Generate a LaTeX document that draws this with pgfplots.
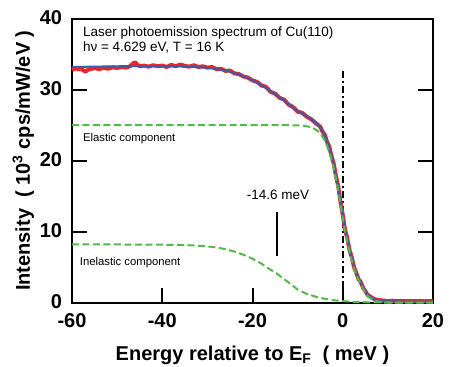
\documentclass[border=0pt]{standalone}
\usepackage{fontspec}
\setmainfont{Liberation Sans}
\usepackage{pgfplots}
\pgfplotsset{compat=1.18}
\definecolor{cred}{HTML}{E8262B}
\definecolor{cblue}{HTML}{3B5BAA}
\definecolor{cgreen}{HTML}{52BA48}
\begin{document}
\begin{tikzpicture}
\path[use as bounding box] (-72pt,-64.3pt) rectangle (381pt,302.7pt);
\begin{axis}[
  at={(0,0)}, anchor=south west,
  scale only axis, width=361pt, height=284pt,
  xmin=-60, xmax=20, ymin=0, ymax=40,
  xtick={-60,-40,-20,0,20}, ytick={0,10,20,30,40},
  xtick pos=bottom, ytick pos=both,
  tick align=inside, major tick length=15pt,
  axis line style={line width=2pt},
  every tick/.style={black, line width=2pt},
  /pgf/number format/assume math mode=true,
  ticklabel style={font=\fontsize{20}{24}\selectfont\bfseries, inner sep=1pt},
  xticklabel style={yshift=-10pt},
  yticklabel style={xshift=-8.7pt, yshift=1pt},
  xlabel={Energy relative to E\textsubscript{F}\ \ ( meV )},
  ylabel={Intensity\ \ ( 10\textsuperscript{3} cps/mW/eV )},
  label style={font=\fontsize{20}{24}\selectfont\bfseries},
  xlabel style={at={(axis description cs:0.5,-0.2018)}, anchor=base, inner sep=0pt},
  ylabel style={at={(axis description cs:-0.135,0.5)}, anchor=center, inner sep=0pt},
  clip=false,
]
% dash-dot Fermi level line
\addplot[black, line width=2pt, dash pattern=on 7pt off 3pt on 2pt off 3pt] coordinates {(0,0) (0,33)};
% -14.6 meV marker
\addplot[black, line width=2pt] coordinates {(-14.6,6.6) (-14.6,12.8)};
% measured data
\addplot[cred, line width=4pt, line join=round] coordinates {
(-60,32.8) (-59.5,32.95) (-59,33.0) (-58.5,32.85) (-58,33.05) (-57.5,32.7) (-57,32.55) (-56.5,32.8) (-56,32.9) (-55,33.05)
(-54,32.9) (-53,33.1) (-52,32.95) (-51,33.15) (-50,33.05) (-49,33.2) (-48,33.1) (-47,33.35) (-46.5,33.7) (-46,33.85)
(-45.5,33.5) (-45,33.3) (-44,33.4) (-43,33.25) (-42,33.45) (-41,33.3) (-40,33.4) (-39,33.2) (-38,33.5) (-37,33.3)
(-36,33.55) (-35,33.35) (-34,33.25) (-33,33.45) (-32,33.2) (-31,33.3) (-30,33.1) (-29,33.2) (-28,32.9) (-27,32.95)
(-26,32.65) (-25,32.7) (-24,32.3) (-23,32.2) (-22,31.85) (-21,31.7) (-20,31.3) (-19,31.1) (-18,30.6) (-17,30.4)
(-16,29.7) (-15,29.45) (-14,28.85) (-13,28.6) (-12,27.9) (-11,27.55) (-10,26.9) (-9,26.75) (-8,26.2) (-7,25.85)
(-6,25.3) (-5,24.8) (-4.5,24.1) (-4,23.7) (-3.5,22.7) (-3,22.0) (-2.5,20.7) (-2,19.6) (-1.5,17.8) (-1,16.4)
(-0.5,14.2) (0,12.4) (0.5,10.3) (1,9.1) (1.5,7.4) (2,6.4) (2.5,5.0) (3,4.2) (3.5,3.3) (4,2.9)
(4.5,2.1) (5,1.65) (5.5,1.1) (6,0.9) (7,0.5) (8,0.38) (9,0.3) (10,0.25) (11,0.28) (12,0.22)
(13,0.25) (14,0.2) (15,0.24) (16,0.22) (17,0.25) (18,0.2) (19,0.23) (20,0.22)
};
% fit
\addplot[cblue, line width=2pt, line join=round] coordinates {
(-60,33.2) (-55,33.25) (-50,33.3) (-45,33.32) (-40,33.3) (-36,33.27) (-33,33.2) (-30,33.08) (-28,32.93) (-26,32.7)
(-24,32.35) (-22,31.9) (-20,31.35) (-18,30.65) (-16,29.8) (-14,28.95) (-12,28.0) (-10,27.0) (-8,26.3) (-7,25.9)
(-6,25.4) (-5,24.75) (-4,23.6) (-3,21.9) (-2,19.5) (-1,16.25) (-0.5,14.3) (0,12.27) (0.5,10.4) (1,9.0)
(1.5,7.5) (2,6.3) (2.5,5.1) (3,4.1) (3.5,3.4) (4,2.8) (4.5,2.15) (5,1.6) (5.5,1.15) (6,0.85)
(7,0.5) (8,0.33) (9,0.25) (10,0.2) (12,0.17) (20,0.15)
};
% elastic component
\addplot[cgreen, line width=2pt, dash pattern=on 7pt off 3.5pt] coordinates {
(-60,25.0) (-50,25.0) (-40,25.0) (-30,25.0) (-20,25.0) (-12,25.0) (-10,24.98) (-9,24.95) (-8,24.85) (-7,24.7)
(-6,24.4) (-5,23.9) (-4,22.9) (-3,21.3) (-2,19.0) (-1,15.8) (-0.5,13.9) (0,11.9) (0.5,10.05) (1,8.7)
(1.5,7.2) (2,6.0) (2.5,4.85) (3,3.85) (3.5,3.2) (4,2.55) (4.5,1.95) (5,1.4) (5.5,0.95) (6,0.65)
(7,0.3) (8,0.15) (9,0.07) (10,0.03) (12,0.0) (20,0.0)
};
% inelastic component
\addplot[cgreen, line width=2pt, dash pattern=on 7pt off 3.5pt] coordinates {
(-60,8.2) (-50,8.2) (-45,8.19) (-40,8.17) (-36,8.13) (-33,8.07) (-30,7.93) (-28,7.78) (-26,7.55) (-24,7.2)
(-22,6.75) (-20,6.2) (-18,5.5) (-16,4.65) (-14.6,4.1) (-14,3.8) (-12,2.85) (-10,1.85) (-8,1.25) (-6,0.85)
(-4,0.55) (-2,0.35) (0,0.22) (2,0.14) (4,0.09) (6,0.05) (8,0.03) (10,0.02) (14,0.01) (20,0.0)
};
\node[anchor=base west, inner sep=0pt, font=\fontsize{13.5}{16}\selectfont] at (axis cs:-57.6,37.56) {Laser photoemission spectrum of Cu(110)};
\node[anchor=base west, inner sep=0pt, font=\fontsize{13.5}{16}\selectfont] at (axis cs:-57.6,35.35) {hν = 4.629 eV, T = 16 K};
\node[anchor=base west, inner sep=0pt, font=\fontsize{11.3}{14}\selectfont] at (axis cs:-57.6,22.7) {Elastic component};
\node[anchor=base west, inner sep=0pt, font=\fontsize{11.3}{14}\selectfont] at (axis cs:-58.3,5.2) {Inelastic component};
\node[anchor=base west, inner sep=0pt, font=\fontsize{13.5}{16}\selectfont] at (axis cs:-21.3,14.56) {-14.6 meV};
\end{axis}
\end{tikzpicture}
\end{document}
